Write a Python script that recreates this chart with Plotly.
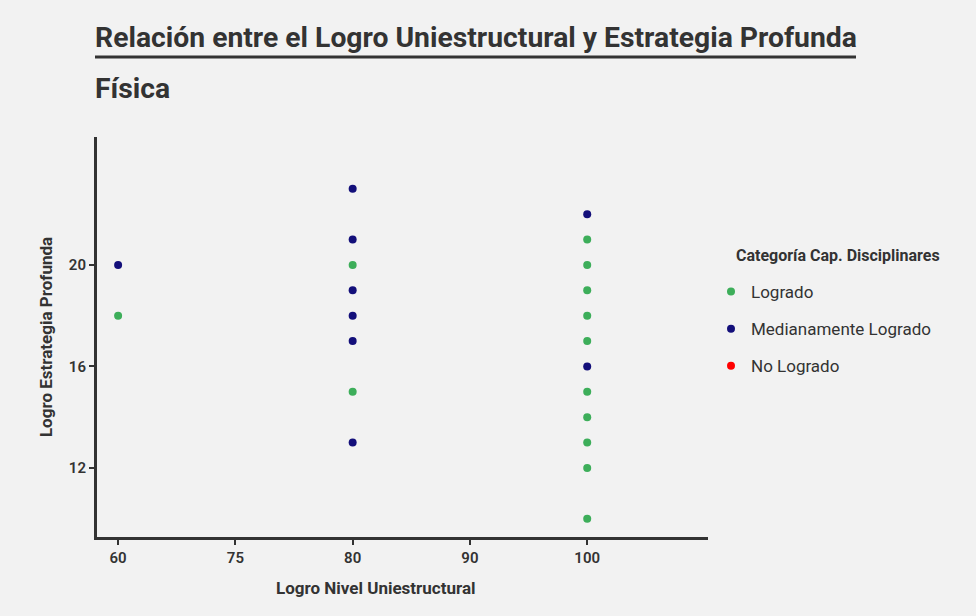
import plotly.graph_objects as go

categories = ["60", "75", "80", "90", "100"]

logrado_x = ["60", "80", "80", "100", "100", "100", "100", "100", "100", "100", "100", "100", "100"]
logrado_y = [18, 20, 15, 21, 20, 19, 18, 17, 15, 14, 13, 12, 10]

medio_x = ["60", "80", "80", "80", "80", "80", "80", "100", "100"]
medio_y = [20, 23, 21, 19, 18, 17, 13, 22, 16]

nolog_x = [None]
nolog_y = [None]

y_ticks = [12, 16, 20]

FONT = "Roboto, sans-serif"
TXT = "#333333"

# plot area in pixels
L, R, T, B = 97, 708, 137, 537
W, H = 976, 616
def px(x):
    return (x - L) / (R - L)
def py(y):
    return (B - y) / (B - T)

fig = go.Figure()
fig.add_trace(go.Scatter(x=logrado_x, y=logrado_y, mode="markers", name="Logrado",
                         legendgroup="a", marker=dict(color="#3dae5a", size=8)))
fig.add_trace(go.Scatter(x=medio_x, y=medio_y, mode="markers", name="Medianamente Logrado",
                         legendgroup="b", marker=dict(color="#130f7a", size=8)))
fig.add_trace(go.Scatter(x=nolog_x, y=nolog_y, mode="markers", name="No Logrado",
                         legendgroup="c", marker=dict(color="#ff0000", size=8)))

fig.update_layout(
    width=W, height=H,
    paper_bgcolor="#f2f2f2", plot_bgcolor="#f2f2f2",
    margin=dict(l=L, r=W - R, t=T, b=H - B),
    font=dict(family=FONT, color=TXT, size=15),
    xaxis=dict(type="category", categoryorder="array", categoryarray=categories,
               range=[-0.18, 5.03], showgrid=False, zeroline=False,
               showline=True, linecolor=TXT, linewidth=3,
               ticks="outside", ticklen=5, tickwidth=2, tickcolor=TXT,
               tickfont=dict(size=15, color=TXT, weight=600)),
    yaxis=dict(range=[9.28, 25.04], tickvals=y_ticks, showgrid=False, zeroline=False,
               showline=True, linecolor=TXT, linewidth=3,
               ticks="outside", ticklen=5, tickwidth=2, tickcolor=TXT,
               tickfont=dict(size=15, color=TXT, weight=600),
               title=dict(text="Logro Estrategia Profunda",
                          font=dict(size=17, color=TXT, weight="bold"), standoff=12)),
    legend=dict(x=px(711), xanchor="left", y=py(274), yanchor="top",
                font=dict(size=17, color=TXT), tracegroupgap=12, itemwidth=30,
                bgcolor="rgba(0,0,0,0)"),
    annotations=[
        dict(text="Relación entre el Logro Uniestructural y Estrategia Profunda",
             xref="paper", yref="paper", x=px(93), y=py(37), xanchor="left", yanchor="middle",
             showarrow=False, font=dict(size=28.3, color=TXT, weight="bold")),
        dict(text="Física",
             xref="paper", yref="paper", x=px(93), y=py(89), xanchor="left", yanchor="middle",
             showarrow=False, font=dict(size=28.3, color=TXT, weight="bold")),
        dict(text="Categoría Cap. Disciplinares",
             xref="paper", yref="paper", x=px(734), y=py(255), xanchor="left", yanchor="middle",
             showarrow=False, font=dict(size=16, color=TXT, weight="bold")),
        dict(text="Logro Nivel Uniestructural",
             xref="paper", yref="paper", x=px(376), y=py(588), xanchor="center", yanchor="middle",
             showarrow=False, font=dict(size=17, color=TXT, weight="bold")),
    ],
    shapes=[dict(type="line", xref="paper", yref="paper",
                 x0=px(95), x1=px(856), y0=py(57), y1=py(57),
                 line=dict(color=TXT, width=3))],
)

fig.write_html("out.html", config={"displayModeBar": False},
               post_script="document.body.style.margin='0';document.body.style.background='#f2f2f2';")
